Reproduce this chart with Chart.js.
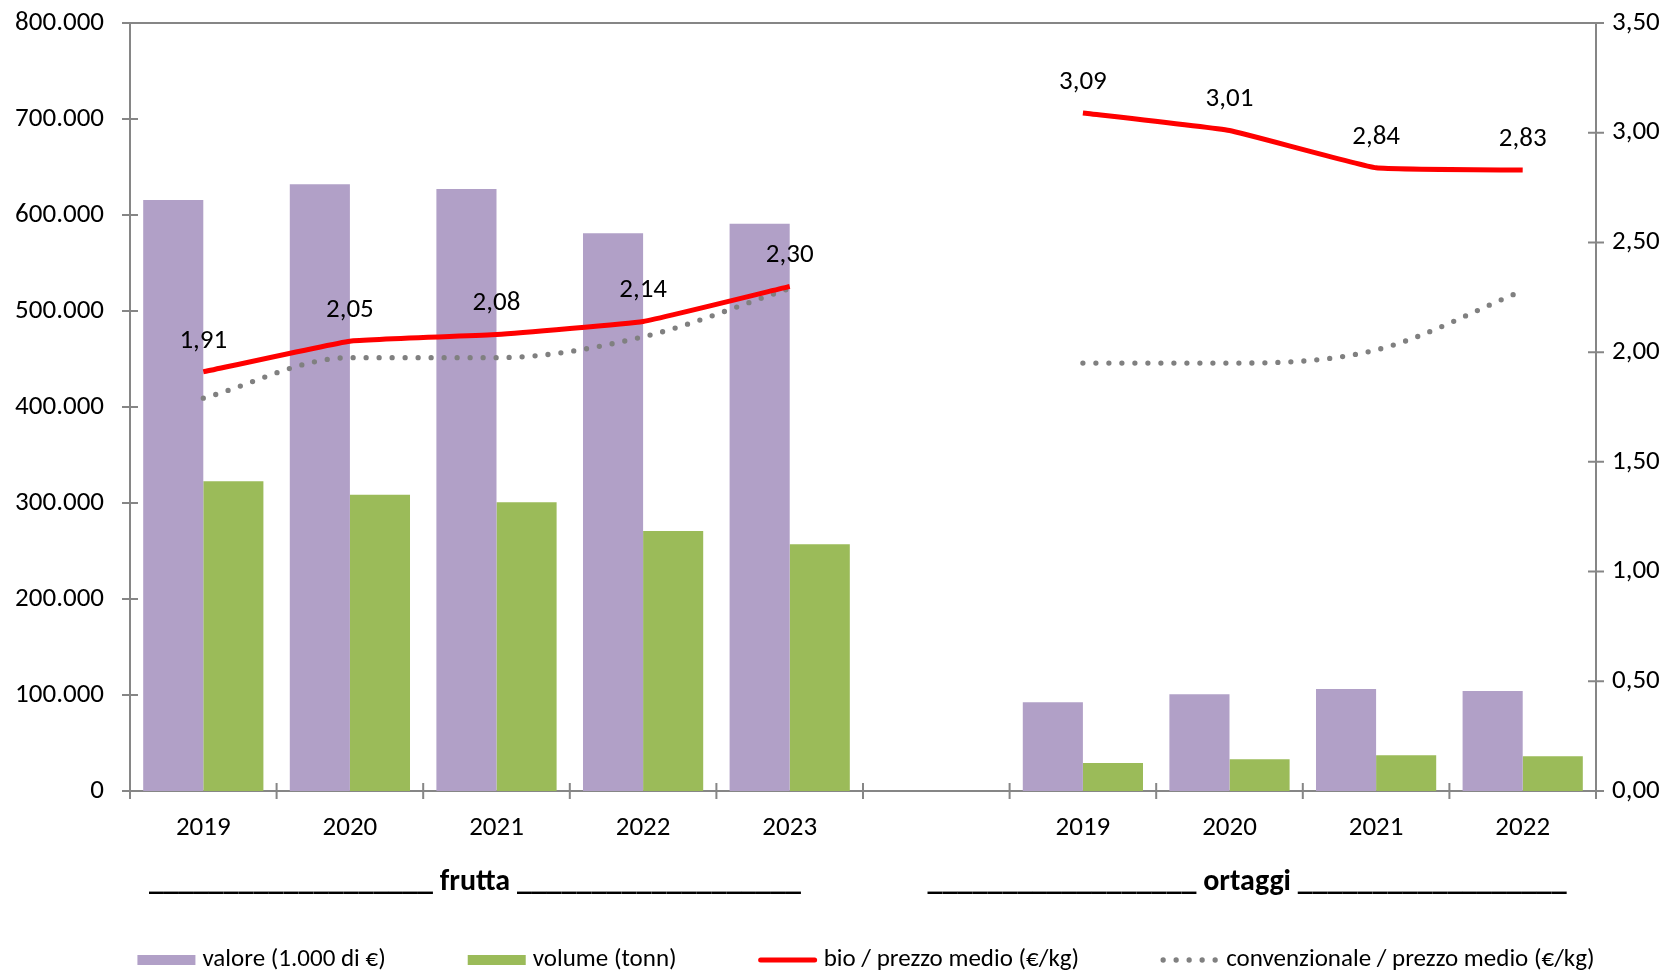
<!DOCTYPE html>
<html lang="it">
<head>
<meta charset="utf-8">
<script src="https://cdn.jsdelivr.net/npm/chart.js@4.4.1/dist/chart.umd.min.js"></script>
<style>
  html, body { margin: 0; padding: 0; background: #fff; }
  #contenitore { width: 1677px; height: 970px; }
</style>
</head>
<body>
<div id="contenitore"><canvas id="grafico"></canvas></div>
<script>
// categorie: frutta 2019-2023, una colonna vuota, ortaggi 2019-2022
const anni = ["2019", "2020", "2021", "2022", "2023", "", "2019", "2020", "2021", "2022"];
const valore = [615600, 632000, 627000, 581000, 591000, null, 92400, 100700, 106200, 104200];
const volume = [322600, 308600, 300700, 270800, 257000, null, 29200, 33000, 37200, 36100];
const prezzoBio = [1.91, 2.05, 2.08, 2.14, 2.30, null, 3.09, 3.01, 2.84, 2.83];
const prezzoConv = [1.79, 1.975, 1.975, 2.07, 2.29, null, 1.95, 1.95, 2.01, 2.28];
const gruppi = ["frutta", "ortaggi"];
const tickSinistra = [0, 100000, 200000, 300000, 400000, 500000, 600000, 700000, 800000];
const tickDestra = [0, 0.5, 1, 1.5, 2, 2.5, 3, 3.5];

const FONT = "Carlito, Lato, sans-serif";
const GRIGIO_ASSE = "#868686";

Chart.defaults.font.family = FONT;
Chart.defaults.color = "#000";

function formatoMigliaia(v) {
  return String(Math.round(v)).replace(/\B(?=(\d{3})+(?!\d))/g, ".");
}
function formatoPrezzo(v) {
  return Number(v).toFixed(2).replace(".", ",");
}

// tacche che attraversano gli assi + bordo superiore
const pluginAssi = {
  id: "assi",
  afterDraw(chart) {
    const { ctx, chartArea: a, scales } = chart;
    ctx.save();
    ctx.strokeStyle = GRIGIO_ASSE;
    ctx.lineWidth = 2;
    ctx.beginPath();
    ctx.moveTo(a.left, a.top);
    ctx.lineTo(a.right, a.top);
    tickSinistra.forEach((v) => {
      const y = scales.y.getPixelForValue(v);
      ctx.moveTo(a.left - 8, y);
      ctx.lineTo(a.left + 8, y);
    });
    tickDestra.forEach((v) => {
      const y = scales.y1.getPixelForValue(v);
      ctx.moveTo(a.right - 8, y);
      ctx.lineTo(a.right + 8, y);
    });
    const passo = (a.right - a.left) / anni.length;
    for (let i = 0; i <= anni.length; i++) {
      const x = a.left + i * passo;
      ctx.moveTo(x, a.bottom - 8);
      ctx.lineTo(x, a.bottom + 8);
    }
    ctx.stroke();
    ctx.restore();
  }
};

// etichette dei valori sopra la linea bio
const pluginEtichette = {
  id: "etichette",
  afterDatasetsDraw(chart) {
    const { ctx } = chart;
    const meta = chart.getDatasetMeta(2);
    ctx.save();
    ctx.font = "27px " + FONT;
    ctx.fillStyle = "#000";
    ctx.textAlign = "center";
    ctx.textBaseline = "middle";
    meta.data.forEach((pt, i) => {
      if (prezzoBio[i] == null) return;
      ctx.fillText(formatoPrezzo(prezzoBio[i]), pt.x, pt.y - 31);
    });
    ctx.restore();
  }
};

// titoli dei gruppi sotto l'asse x
const pluginGruppi = {
  id: "gruppi",
  afterDraw(chart) {
    const { ctx, chartArea: a } = chart;
    const w = a.right - a.left;
    const centri = [a.left + w * 0.2353, a.left + w * 0.762];
    const trattini = ["___________________", "__________________"];
    ctx.save();
    ctx.font = "bold 30px " + FONT;
    ctx.fillStyle = "#000";
    ctx.textAlign = "center";
    ctx.textBaseline = "alphabetic";
    gruppi.forEach((g, i) => {
      ctx.fillText(trattini[i] + " " + g + " " + trattini[i], centri[i], 890);
    });
    ctx.restore();
  }
};

// legenda in basso
const pluginLegenda = {
  id: "legenda",
  afterDraw(chart) {
    const { ctx, chartArea: a } = chart;
    const ds = chart.data.datasets;
    const ordine = [0, 1, 2, 3];
    const box = 58, dopoBox = 7, gap = 82, yc = 960;
    ctx.save();
    ctx.font = "25px " + FONT;
    const larghezze = ordine.map((i) => box + dopoBox + ctx.measureText(ds[i].label).width);
    const totale = larghezze.reduce((s, v) => s + v, 0) + gap * (ordine.length - 1);
    let x = (a.left + a.right) / 2 - totale / 2 + 3;
    ordine.forEach((i, k) => {
      const d = ds[i];
      if (d.type === "bar") {
        ctx.fillStyle = d.backgroundColor;
        ctx.fillRect(x, yc - 5, box, 10);
      } else {
        ctx.strokeStyle = d.borderColor;
        ctx.lineWidth = d.borderWidth;
        ctx.lineCap = "round";
        ctx.setLineDash(d.borderDash || []);
        ctx.beginPath();
        ctx.moveTo(x + 2, yc);
        ctx.lineTo(x + box - 2, yc);
        ctx.stroke();
        ctx.setLineDash([]);
      }
      ctx.fillStyle = "#000";
      ctx.textAlign = "left";
      ctx.textBaseline = "middle";
      ctx.fillText(d.label, x + box + dopoBox, yc);
      x += larghezze[k] + gap;
    });
    ctx.restore();
  }
};

function fissaAsseY(larghezza) {
  return (scale) => {
    scale.width = larghezza;
    scale.paddingTop = 0;
    scale.paddingBottom = 0;
  };
}

new Chart(document.getElementById("grafico"), {
  data: {
    labels: anni,
    datasets: [
      {
        type: "bar",
        label: "valore (1.000 di €)",
        data: valore,
        backgroundColor: "#B1A0C7",
        yAxisID: "y",
        order: 2,
        barPercentage: 1,
        categoryPercentage: 0.82
      },
      {
        type: "bar",
        label: "volume (tonn)",
        data: volume,
        backgroundColor: "#9BBB59",
        yAxisID: "y",
        order: 2,
        barPercentage: 1,
        categoryPercentage: 0.82
      },
      {
        type: "line",
        label: "bio / prezzo medio (€/kg)",
        data: prezzoBio,
        borderColor: "#FF0000",
        borderWidth: 5,
        tension: 0.1,
        pointRadius: 0,
        yAxisID: "y1",
        order: 0
      },
      {
        type: "line",
        label: "convenzionale / prezzo medio (€/kg)",
        data: prezzoConv,
        borderColor: "#808080",
        borderWidth: 5.3,
        borderDash: [0, 13],
        borderCapStyle: "round",
        cubicInterpolationMode: "monotone",
        pointRadius: 0,
        yAxisID: "y1",
        order: 1
      }
    ]
  },
  options: {
    responsive: true,
    maintainAspectRatio: false,
    animation: false,
    layout: { padding: { top: 23, left: 0, right: 0, bottom: 0 } },
    plugins: {
      legend: { display: false },
      tooltip: { enabled: false }
    },
    scales: {
      x: {
        grid: { display: false, drawTicks: false },
        border: { color: GRIGIO_ASSE, width: 2 },
        ticks: { font: { size: 27 }, padding: 21, maxRotation: 0, autoSkip: false },
        afterFit(scale) {
          scale.height = 179;
          scale.paddingLeft = 0;
          scale.paddingRight = 0;
        }
      },
      y: {
        position: "left",
        min: 0,
        max: 800000,
        grid: { display: false, drawTicks: false },
        border: { color: GRIGIO_ASSE, width: 2 },
        ticks: { stepSize: 100000, font: { size: 27 }, padding: 26, callback: (v) => formatoMigliaia(v) },
        afterFit: fissaAsseY(130)
      },
      y1: {
        position: "right",
        min: 0,
        max: 3.5,
        grid: { display: false, drawTicks: false },
        border: { color: GRIGIO_ASSE, width: 2 },
        ticks: { stepSize: 0.5, font: { size: 27 }, padding: 16, callback: (v) => formatoPrezzo(v) },
        afterFit: fissaAsseY(81)
      }
    }
  },
  plugins: [pluginAssi, pluginEtichette, pluginGruppi, pluginLegenda]
});
</script>
</body>
</html>
